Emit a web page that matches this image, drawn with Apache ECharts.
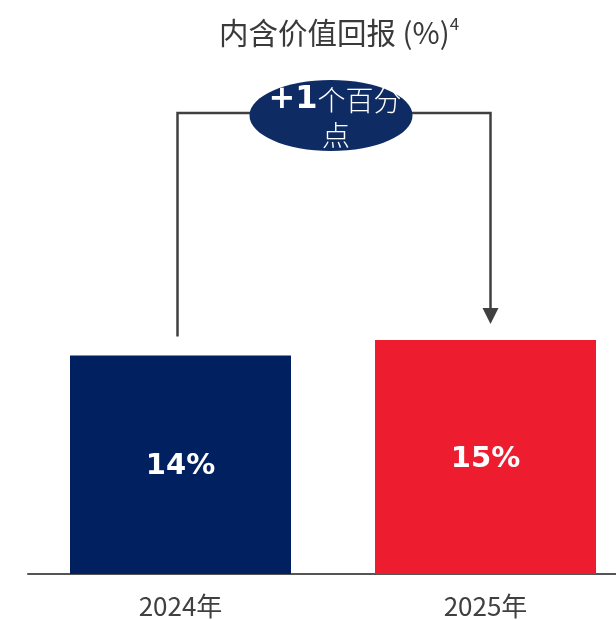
<!DOCTYPE html>
<html><head><meta charset="utf-8">
<script src="https://cdn.jsdelivr.net/npm/echarts@6/dist/echarts.min.js"></script>
<style>html,body{margin:0;padding:0;background:#fff;overflow:hidden}#c{width:616px;height:620px}</style>
</head><body><div id="c"></div>
<script>
const categories = ['2024年', '2025年'];
const values = [14, 15];
const barColors = ['#002060', '#ED1C2E'];
const titleText = '内含价值回报 (%)';
const titleSup = '4';
const changeLabel = ['+1', '个百分', '点'];

const chart = echarts.init(document.getElementById('c'));
const option = {
  animation: false,
  title: {
    text: '{t|' + titleText + '}{s|' + titleSup + '}',
    left: 334, top: 10, textAlign: 'center',
    textStyle: {
      fontWeight: 'normal',
      rich: {
        t: { fontFamily: 'Noto Sans CJK SC', fontWeight: 'normal', fontSize: 29.5, color: '#3a3a3a', lineHeight: 36 },
        s: { fontFamily: 'Noto Sans CJK SC', fontWeight: 'normal', fontSize: 17, color: '#3a3a3a', verticalAlign: 'top', lineHeight: 36, padding: [0, 0, 12, 0] }
      }
    }
  },
  grid: { left: 28, width: 610, top: 106, bottom: 46, outerBoundsMode: 'none', containLabel: false },
  xAxis: {
    type: 'category', data: categories,
    axisLine: { lineStyle: { color: '#555', width: 2 } },
    axisTick: { show: false },
    axisLabel: { fontFamily: 'Noto Sans CJK SC', fontSize: 26, color: '#404040', margin: 19 }
  },
  yAxis: { type: 'value', min: 0, max: 30, show: false, splitLine: { show: false } },
  series: [{
    type: 'bar', barWidth: 221,
    data: values.map((v, i) => ({ value: v, itemStyle: { color: barColors[i] } })),
    label: {
      show: true, position: 'inside', offset: [0, 2],
      formatter: p => p.value + '%',
      fontFamily: 'DejaVu Sans', fontWeight: 'bold', fontSize: 29, color: '#fff'
    }
  }]
};
chart.setOption(option);

const p0 = chart.convertToPixel({ seriesIndex: 0 }, [0, values[0]]);
const p1 = chart.convertToPixel({ seriesIndex: 0 }, [1, values[1]]);
const lx = p0[0] - 3, rx = p1[0] + 5, hy = 113;
const cx = (lx + rx) / 2 - 3;
chart.setOption({
  graphic: [
    { type: 'polyline', shape: { points: [[lx, p0[1] - 19], [lx, hy], [rx, hy], [rx, p1[1] - 30]] },
      style: { stroke: '#404040', lineWidth: 2.5, fill: null } },
    { type: 'polygon', shape: { points: [[rx - 8, p1[1] - 32], [rx + 8, p1[1] - 32], [rx, p1[1] - 16]] },
      style: { fill: '#404040' } },
    { type: 'ellipse', shape: { cx: cx, cy: 115.5, rx: 81.5, ry: 35.5 }, style: { fill: '#0F2B63' } },
    { type: 'text', x: cx + 4, y: 100,
      style: {
        text: '{b|' + changeLabel[0] + '}{n|' + changeLabel[1] + '}',
        align: 'center', verticalAlign: 'middle',
        rich: {
          b: { fontFamily: 'DejaVu Sans', fontWeight: 'bold', fontSize: 32, fill: '#fff' },
          n: { fontFamily: 'Noto Sans CJK SC', fontWeight: 300, fontSize: 28, fill: '#fff' }
        }
      } },
    { type: 'text', x: cx + 5, y: 135,
      style: { text: changeLabel[2], align: 'center', verticalAlign: 'middle',
        fontFamily: 'Noto Sans CJK SC', fontWeight: 300, fontSize: 28, fill: '#fff' } }
  ]
});
</script></body></html>
